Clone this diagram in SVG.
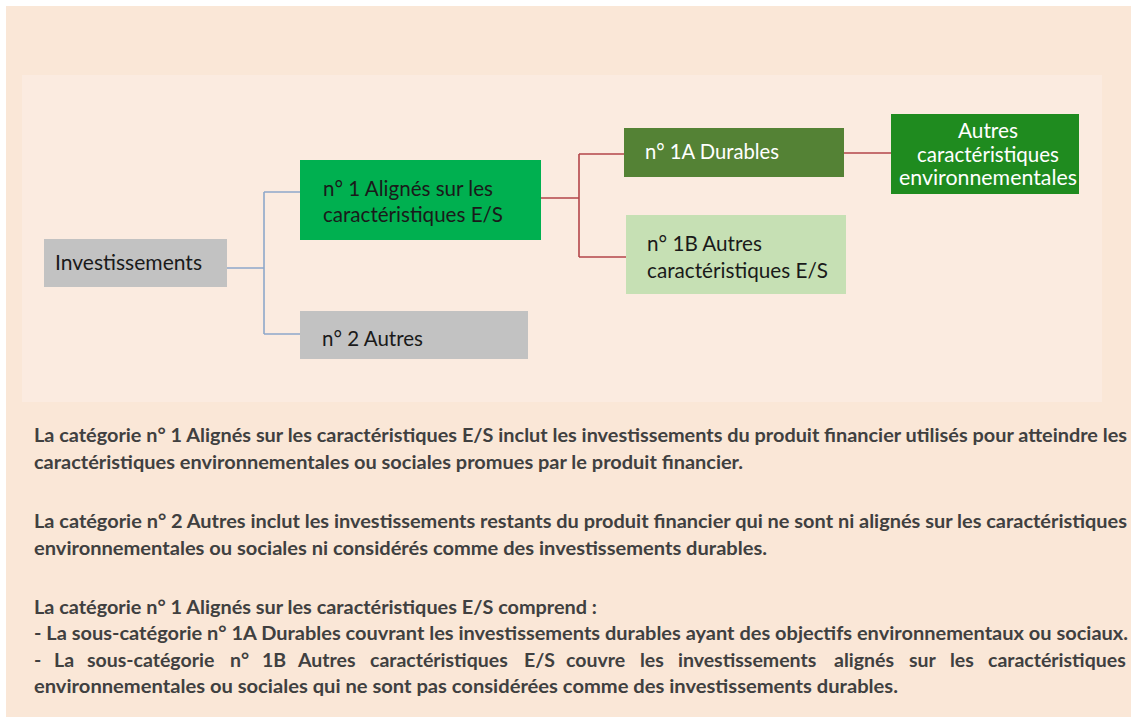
<svg xmlns="http://www.w3.org/2000/svg" width="1131" height="717" viewBox="0 0 1131 717">
  <style>
    .nt { font-family: Lato, "Open Sans", "Liberation Sans", sans-serif; font-size: 20.5px; fill: #1a1a1a; }
    .wt { fill: #ffffff; }
    .pt { font-family: Lato, "Open Sans", "Liberation Sans", sans-serif; font-size: 19.5px; font-weight: bold; fill: #404040; }
    .blue { fill: none; stroke: #8EA8CA; stroke-width: 1.6; }
    .red { fill: none; stroke: #B4464A; stroke-width: 1.6; }
  </style>
  <rect x="0" y="0" width="1131" height="717" fill="#ffffff"/>
  <rect x="6" y="6" width="1125" height="711" fill="#FAE7D7"/>
  <rect x="22" y="75" width="1080" height="327" fill="#FBEBE0"/>

  <g id="connectors">
    <path class="blue" d="M227,268 H264 M264,192 V334 M264,192 H300 M264,334 H300"/>
    <path class="red" d="M541,198 H579 M579,154 V257 M579,154 H624 M579,257 H626 M844,153 H891"/>
  </g>

  <g id="node-investissements">
    <rect x="44" y="239" width="183" height="48" fill="#C2C2C2"/>
    <text class="nt" x="55" y="270" textLength="147" lengthAdjust="spacingAndGlyphs">Investissements</text>
  </g>
  <g id="node-n1">
    <rect x="300" y="160" width="241" height="80" fill="#00B050"/>
    <text class="nt" x="323" y="196" textLength="170" lengthAdjust="spacingAndGlyphs">n° 1 Alignés sur les</text>
    <text class="nt" x="323" y="222" textLength="180" lengthAdjust="spacingAndGlyphs">caractéristiques E/S</text>
  </g>
  <g id="node-n2">
    <rect x="300" y="311" width="228" height="48" fill="#C2C2C2"/>
    <text class="nt" x="322" y="346" textLength="101" lengthAdjust="spacingAndGlyphs">n° 2 Autres</text>
  </g>
  <g id="node-n1a">
    <rect x="624" y="128" width="220" height="49" fill="#548235"/>
    <text class="nt wt" x="645" y="159" textLength="134" lengthAdjust="spacingAndGlyphs">n° 1A Durables</text>
  </g>
  <g id="node-n1b">
    <rect x="626" y="215" width="220" height="79" fill="#C6E0B4"/>
    <text class="nt" x="647" y="251" textLength="115" lengthAdjust="spacingAndGlyphs">n° 1B Autres</text>
    <text class="nt" x="647" y="278" textLength="181" lengthAdjust="spacingAndGlyphs">caractéristiques E/S</text>
  </g>
  <g id="node-autres-env">
    <rect x="891" y="114" width="188" height="80" fill="#1F8B1F"/>
    <text class="nt wt" x="988" y="138" text-anchor="middle" textLength="60" lengthAdjust="spacingAndGlyphs">Autres</text>
    <text class="nt wt" x="988" y="162" text-anchor="middle" textLength="142" lengthAdjust="spacingAndGlyphs">caractéristiques</text>
    <text class="nt wt" x="988" y="185" text-anchor="middle" textLength="178" lengthAdjust="spacingAndGlyphs">environnementales</text>
  </g>

  <g id="description">
    <text class="pt" x="34" y="442" textLength="1093" lengthAdjust="spacingAndGlyphs">La catégorie n° 1 Alignés sur les caractéristiques E/S inclut les investissements du produit financier utilisés pour atteindre les</text>
    <text class="pt" x="34" y="469" textLength="709" lengthAdjust="spacingAndGlyphs">caractéristiques environnementales ou sociales promues par le produit financier.</text>
    <text class="pt" x="34" y="528" textLength="1093" lengthAdjust="spacingAndGlyphs">La catégorie n° 2 Autres inclut les investissements restants du produit financier qui ne sont ni alignés sur les caractéristiques</text>
    <text class="pt" x="34" y="555" textLength="733" lengthAdjust="spacingAndGlyphs">environnementales ou sociales ni considérés comme des investissements durables.</text>
    <text class="pt" x="34" y="614" textLength="563" lengthAdjust="spacingAndGlyphs">La catégorie n° 1 Alignés sur les caractéristiques E/S comprend :</text>
    <text class="pt" x="34" y="640" textLength="1094" lengthAdjust="spacingAndGlyphs">- La sous-catégorie n° 1A Durables couvrant les investissements durables ayant des objectifs environnementaux ou sociaux.</text>
    <text class="pt" y="667"><tspan x="34">-</tspan><tspan x="54">La</tspan><tspan x="87">sous-catégorie</tspan><tspan x="230">n°</tspan><tspan x="262">1B</tspan><tspan x="298">Autres</tspan><tspan x="370">caractéristiques</tspan><tspan x="524">E/S</tspan><tspan x="566">couvre</tspan><tspan x="640">les</tspan><tspan x="678">investissements</tspan><tspan x="834">alignés</tspan><tspan x="909">sur</tspan><tspan x="950">les</tspan><tspan x="988">caractéristiques</tspan></text>
    <text class="pt" x="34" y="693" textLength="864" lengthAdjust="spacingAndGlyphs">environnementales ou sociales qui ne sont pas considérées comme des investissements durables.</text>
  </g>
</svg>
